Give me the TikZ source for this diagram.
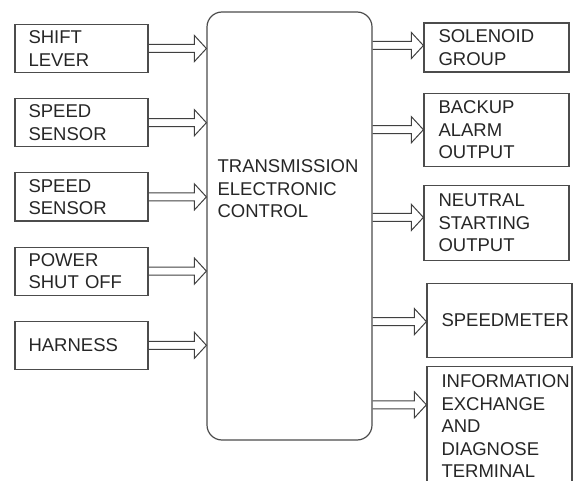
\documentclass[tikz,border=0pt]{standalone}
\usepackage{fontspec}
\setmainfont{Liberation Sans}
\usetikzlibrary{positioning,calc}

\begin{document}
\begin{tikzpicture}[x=1pt,y=-1pt,
  every node/.style={font=\fontsize{18.5}{22.5}\selectfont,text=black!85},
  inbox/.style={draw=black!70,line width=1.2pt,minimum width=133pt,
                minimum height=48pt,text width=106pt,inner xsep=13.5pt,
                inner ysep=1pt,align=left},
  outbox/.style={draw=black!70,line width=1.2pt,minimum width=145pt,
                 text width=116pt,inner xsep=14.5pt,inner ysep=1pt,align=left},
  hollow/.style={draw=black!75,line width=1pt,to path={
    ($(\tikztostart)+(0,-4)$) -- ($(\tikztotarget)+(-12,-4)$)
    -- ($(\tikztotarget)+(-12,-13)$) -- (\tikztotarget)
    -- ($(\tikztotarget)+(-12,13)$) -- ($(\tikztotarget)+(-12,4)$)
    -- ($(\tikztostart)+(0,4)$)}},
]
\useasboundingbox (0,0) rectangle (578,481);
% inputs
\node[inbox] (sl) at (81.5,48.5) {SHIFT\\LEVER};
\node[inbox,below=25pt of sl] (ss1) {SPEED\\SENSOR};
\node[inbox,below=25pt of ss1] (ss2) {SPEED\\SENSOR};
\node[inbox,below=25pt of ss2] (pso) {POWER\\SHUT OFF};
\node[inbox,below=25pt of pso] (har) {HARNESS};
% control unit
\node[draw=black!70,line width=1.2pt,rounded corners=15pt,minimum width=165pt,
      minimum height=428pt] (tec) at (289.5,226) {};
\node[anchor=west,inner sep=0pt,align=left] (tectxt)
  at ([xshift=11pt,yshift=37pt]tec.west) {TRANSMISSION\\ELECTRONIC\\CONTROL};
% outputs
\node[outbox,minimum height=49pt] (sol) at (496.5,47.5) {SOLENOID\\GROUP};
\node[outbox,minimum height=73pt,below=20pt of sol] (bak) {BACKUP\\ALARM\\OUTPUT};
\node[outbox,minimum height=75pt,below=18pt of bak] (neu) {NEUTRAL\\STARTING\\OUTPUT};
\node[outbox,minimum height=74pt,below=22pt of neu,xshift=3pt] (spd) {SPEEDMETER};
\node[outbox,minimum height=119pt,below=8pt of spd] (inf)
  {INFORMATION\\EXCHANGE\\AND\\DIAGNOSE\\TERMINAL};
% arrows
\foreach \n in {sl,ss1,ss2,pso,har}
  \draw[hollow] (\n.east) to (tec.west |- \n.east);
\foreach \n/\dy in {sol/2,bak/0,neu/5.5,spd/-1,inf/21.5}{
  \coordinate (\n-in) at ([yshift=\dy pt]\n.west);
  \draw[hollow] (tec.east |- \n-in) to (\n-in);
}
\end{tikzpicture}
\end{document}
